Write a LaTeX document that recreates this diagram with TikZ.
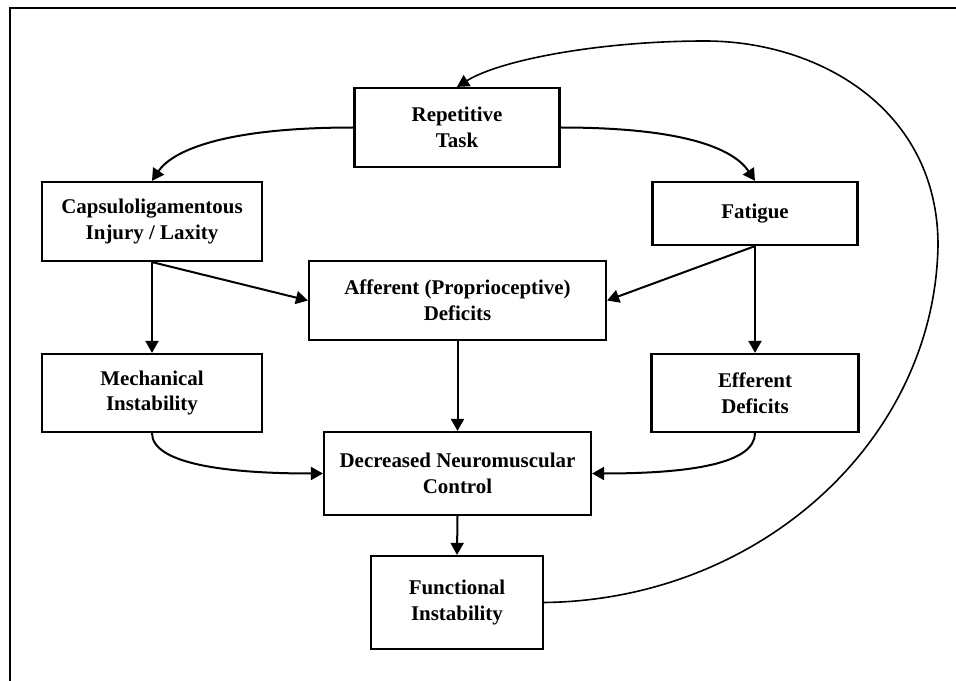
\documentclass[tikz,border=0pt]{standalone}
\usepackage{fontspec}
\setmainfont{Liberation Serif}
\usetikzlibrary{arrows.meta}

\tikzset{
    box/.style={draw, line width=1.1bp, align=center, inner sep=0pt,
        font=\bfseries\fontsize{10.5}{13}\selectfont},
    arr/.style={line width=1bp, -{Triangle[length=6bp,width=6.5bp]}},
}

\begin{document}
\begin{tikzpicture}[x=0.5bp, y=-0.5bp]
    \useasboundingbox (0,0) rectangle (956,681);

    % 边框
    \draw[line width=1bp] (10,681) -- (10,8) -- (956,8);

    % 方框
    \node[box, minimum width=102.5bp, minimum height=39.5bp] (rep) at (457,127.5) {Repetitive\\Task};
    \node[box, minimum width=110bp, minimum height=39.5bp] (cap) at (152,221.5) {Capsuloligamentous\\Injury / Laxity};
    \node[box, minimum width=102.5bp, minimum height=31.5bp] (fat) at (755,213.5) {Fatigue};
    \node[box, minimum width=148.5bp, minimum height=39.5bp] (aff) at (457.5,300.5) {Afferent (Proprioceptive)\\Deficits};
    \node[box, minimum width=110bp, minimum height=39bp] (mech) at (152,393) {Mechanical\\Instability};
    \node[box, minimum width=103.5bp, minimum height=39bp] (eff) at (755,393) {Efferent\\Deficits};
    \node[box, minimum width=133.5bp, minimum height=41.5bp] (dec) at (457.5,473.5) {Decreased Neuromuscular\\Control};
    \node[box, minimum width=86bp, minimum height=46.5bp] (fun) at (457,602.5) {Functional\\Instability};

    % 箭头
    \draw[arr] (rep.west) .. controls +(-130,0) and +(20,-30) .. (cap.north);
    \draw[arr] (rep.east) .. controls +(130,0) and +(-20,-30) .. (fat.north);
    \draw[arr] (cap.south) -- (mech.north);
    \draw[arr] (cap.south) -- (aff.west);
    \draw[arr] (fat.south) -- (eff.north);
    \draw[arr] (fat.south) -- (aff.east);
    \draw[arr] (aff.south) -- (dec.north);
    \draw[arr] (mech.south) .. controls +(0,30) and +(-100,0) .. (dec.west);
    \draw[arr] (eff.south) .. controls +(0,30) and +(100,0) .. (dec.east);
    \draw[arr] (dec.south) -- (fun.north);

    % 回路
    \coordinate (loopR) at (938,245);
    \coordinate (loopT) at (705,41);
    \draw[arr, line width=0.8bp] (fun.east) .. controls (760,600) and (935,440) .. (loopR)
        .. controls (938,110) and (820,41) .. (loopT)
        .. controls (600,41) and (500,60) .. (rep.north);

\end{tikzpicture}
\end{document}
